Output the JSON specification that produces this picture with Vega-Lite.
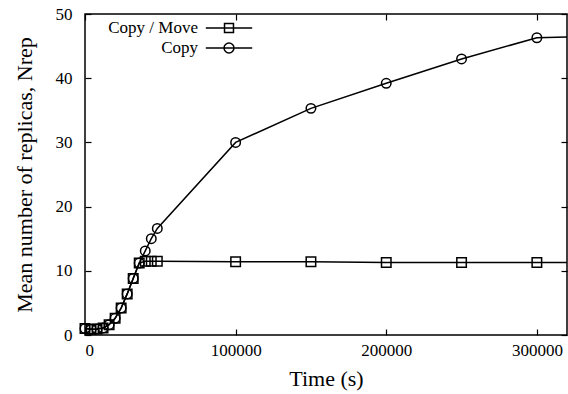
{
  "$schema": "https://vega.github.io/schema/vega-lite/v6.json",
  "autosize": {"type": "none"},
  "padding": {"left": 85, "top": 14, "right": 1, "bottom": 59},
  "width": 482,
  "height": 321,
  "background": "white",
  "view": {"stroke": "black", "strokeWidth": 1.5},
  "config": {
    "font": "Liberation Serif",
    "axis": {
      "labelFont": "Liberation Serif",
      "labelFontSize": 17,
      "labelColor": "black",
      "titleFont": "Liberation Serif",
      "titleFontSize": 22,
      "titleFontWeight": "normal",
      "titleColor": "black",
      "tickColor": "black",
      "tickWidth": 1.2,
      "grid": false,
      "domain": false
    },
    "legend": {"labelFont": "Liberation Serif", "labelFontSize": 17, "labelColor": "black"}
  },
  "data": {
    "values": [
      {"t": 0, "n": 1.0, "series": "Copy / Move"},
      {"t": 4000, "n": 0.9, "series": "Copy / Move"},
      {"t": 8000, "n": 0.95, "series": "Copy / Move"},
      {"t": 12000, "n": 1.1, "series": "Copy / Move"},
      {"t": 16000, "n": 1.6, "series": "Copy / Move"},
      {"t": 20000, "n": 2.6, "series": "Copy / Move"},
      {"t": 24000, "n": 4.2, "series": "Copy / Move"},
      {"t": 28000, "n": 6.4, "series": "Copy / Move"},
      {"t": 32000, "n": 8.8, "series": "Copy / Move"},
      {"t": 36000, "n": 11.2, "series": "Copy / Move"},
      {"t": 40000, "n": 11.5, "series": "Copy / Move"},
      {"t": 44000, "n": 11.5, "series": "Copy / Move"},
      {"t": 48000, "n": 11.5, "series": "Copy / Move"},
      {"t": 100000, "n": 11.4, "series": "Copy / Move"},
      {"t": 150000, "n": 11.4, "series": "Copy / Move"},
      {"t": 200000, "n": 11.3, "series": "Copy / Move"},
      {"t": 250000, "n": 11.3, "series": "Copy / Move"},
      {"t": 300000, "n": 11.3, "series": "Copy / Move"},
      {"t": 350000, "n": 11.3, "series": "Copy / Move"},
      {"t": 0, "n": 1.0, "series": "Copy"},
      {"t": 4000, "n": 0.9, "series": "Copy"},
      {"t": 8000, "n": 0.95, "series": "Copy"},
      {"t": 12000, "n": 1.1, "series": "Copy"},
      {"t": 16000, "n": 1.6, "series": "Copy"},
      {"t": 20000, "n": 2.6, "series": "Copy"},
      {"t": 24000, "n": 4.2, "series": "Copy"},
      {"t": 28000, "n": 6.4, "series": "Copy"},
      {"t": 32000, "n": 8.8, "series": "Copy"},
      {"t": 36000, "n": 11.2, "series": "Copy"},
      {"t": 40000, "n": 13.1, "series": "Copy"},
      {"t": 44000, "n": 15.0, "series": "Copy"},
      {"t": 48000, "n": 16.6, "series": "Copy"},
      {"t": 100000, "n": 30.0, "series": "Copy"},
      {"t": 150000, "n": 35.3, "series": "Copy"},
      {"t": 200000, "n": 39.2, "series": "Copy"},
      {"t": 250000, "n": 43.0, "series": "Copy"},
      {"t": 300000, "n": 46.3, "series": "Copy"},
      {"t": 350000, "n": 46.6, "series": "Copy"}
    ]
  },
  "resolve": {"scale": {"shape": "independent"}, "legend": {"shape": "independent"}},
  "layer": [
    {
      "mark": {"type": "line", "color": "black", "strokeWidth": 1.5, "clip": true},
      "encoding": {
        "x": {
          "field": "t", "type": "quantitative",
          "scale": {"domain": [0, 320000], "nice": false, "zero": false},
          "axis": {
            "orient": "bottom", "values": [0, 100000, 200000, 300000], "format": "d", "tickSize": -6, "labelPadding": 13, "title": "Time (s)", "titlePadding": 10
          }
        },
        "y": {
          "field": "n", "type": "quantitative",
          "scale": {"domain": [0, 50], "nice": false},
          "axis": {
            "orient": "left", "values": [0, 10, 20, 30, 40, 50], "tickSize": -6, "labelPadding": 19, "title": "Mean number of replicas, Nrep", "titlePadding": 19
          }
        },
        "detail": {"field": "series"}
      }
    },
    {
      "transform": [{"filter": "datum.t <= 320000"}],
      "mark": {"type": "point", "filled": false, "stroke": "black", "strokeWidth": 1.5, "size": 90, "opacity": 1},
      "encoding": {
        "x": {
          "field": "t", "type": "quantitative",
          "axis": {"orient": "top", "values": [0, 100000, 200000, 300000], "labels": false, "title": null, "tickSize": -6}
        },
        "y": {
          "field": "n", "type": "quantitative",
          "axis": {"orient": "right", "values": [0, 10, 20, 30, 40, 50], "labels": false, "title": null, "tickSize": -6}
        },
        "shape": {
          "field": "series", "type": "nominal",
          "scale": {"domain": ["Copy / Move", "Copy"], "range": ["square", "circle"]},
          "legend": null
        }
      }
    },
    {
      "transform": [{"filter": "datum.t < 0"}],
      "mark": {"type": "point", "filled": false, "stroke": "black", "strokeWidth": 1.5, "size": 256, "opacity": 1},
      "encoding": {
        "x": {"field": "t", "type": "quantitative", "axis": null},
        "y": {"field": "n", "type": "quantitative", "axis": null},
        "shape": {
          "field": "series", "type": "nominal",
          "scale": {
            "domain": ["Copy / Move", "Copy"],
            "range": [
              "M-2.9,0H2.9M-0.56,-0.56H0.56V0.56H-0.56Z",
              "M-2.9,0H2.9M-0.62,0A0.62,0.62,0,1,0,0.62,0A0.62,0.62,0,1,0,-0.62,0"
            ]
          },
          "legend": {
            "orient": "none",
            "legendX": 135,
            "legendY": 5,
            "title": null,
            "padding": 0,
            "rowPadding": 3,
            "labelFont": "Liberation Serif",
            "labelFontSize": 17,
            "labelColor": "black",
            "labelAlign": "right",
            "labelOffset": -40,
            "symbolSize": 256,
            "symbolStrokeColor": "black",
            "symbolStrokeWidth": 1.5,
            "symbolFillColor": "transparent",
            "symbolOpacity": 1
          }
        }
      }
    }
  ]
}
